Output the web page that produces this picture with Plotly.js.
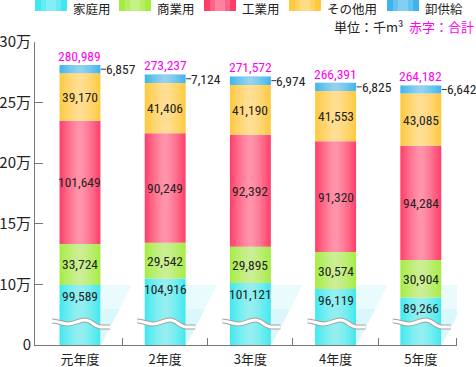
<!DOCTYPE html>
<html><head><meta charset="utf-8">
<script src="https://cdn.plot.ly/plotly-3.0.1.min.js"></script>
<style>html,body{margin:0;padding:0;background:#fff}#chart{width:476px;height:367px}
svg text{font-stretch:75%}
</style>
</head><body><div id="chart"></div>
<script>
const categories = ['元年度','2年度','3年度','4年度','5年度'];
const seriesNames = ['家庭用','商業用','工業用','その他用','卸供給'];
const household  = [99589, 104916, 101121, 96119, 89266];
const commercial = [33724, 29542, 29895, 30574, 30904];
const industrial = [101649, 90249, 92392, 91320, 94284];
const other      = [39170, 41406, 41190, 41553, 43085];
const wholesale  = [6857, 7124, 6974, 6825, 6642];
const totals     = [280989, 273237, 271572, 266391, 264182];
const yTickVals  = [50000, 100000, 150000, 200000, 250000, 300000];
const yTickText  = ['0', '10万', '15万', '20万', '25万', '30万'];
const unitText   = '単位：千m³';
const noteText   = '赤字：合計';

const colors = ['#3fe8f0', '#a4ec40', '#ff3d68', '#ffc93c', '#3cb4ee'];
const series = [household, commercial, industrial, other, wholesale];
const xs = categories.map((c, i) => i);
const numFont = 'Roboto, "Noto Sans CJK JP", sans-serif';
const jpFont = '"Noto Sans CJK JP", sans-serif';
const NUM = 13.5;
const fmt = v => v.toLocaleString('en-US');

// plot area pixel geometry
const L = 35, R = 457, T = 42, B = 345;
const px = x => (x - L) / (R - L);
const py = y => (B - y) / (B - T);

const traces = [];
const bases = series.map(() => []);
const cum = xs.map(() => 0);
series.forEach((vals, s) => {
  vals.forEach((v, i) => { bases[s][i] = cum[i]; cum[i] += v; });
  traces.push({
    type: 'bar', x: xs, y: vals, base: bases[s].slice(), width: 0.48,
    name: seriesNames[s], marker: {color: colors[s], line: {width: 0}},
    hoverinfo: 'skip', showlegend: false
  });
});
// cylinder-like highlight (lighter centre)
for (let k = 0; k < 11; k++) {
  traces.push({
    type: 'bar', x: xs, y: totals, base: xs.map(() => 0), width: 0.46 - k * 0.04,
    marker: {color: 'rgba(255,255,255,0.055)', line: {width: 0}},
    hoverinfo: 'skip', showlegend: false
  });
}

const annotations = [];
xs.forEach(i => {
  annotations.push({x: i, y: household[i], xref: 'x', yref: 'y', text: fmt(household[i]),
    showarrow: false, yanchor: 'top', yshift: -1, font: {family: numFont, size: NUM, color: '#222'}});
  [1, 2, 3].forEach(s => {
    annotations.push({x: i, y: bases[s][i] + series[s][i] / 2, xref: 'x', yref: 'y', text: fmt(series[s][i]),
      showarrow: false, yanchor: 'middle', font: {family: numFont, size: NUM, color: '#222'}});
  });
  annotations.push({x: i, y: bases[4][i] + wholesale[i] / 2, xref: 'x', yref: 'y', text: fmt(wholesale[i]),
    showarrow: false, xanchor: 'left', align: 'left', xshift: 24, yanchor: 'middle', font: {family: numFont, size: NUM, color: '#222'}});
  annotations.push({x: i, y: totals[i], xref: 'x', yref: 'y', text: fmt(totals[i]),
    showarrow: false, yanchor: 'bottom', yshift: -1, font: {family: numFont, size: NUM, color: '#ff00f0'}});
});

const shapes = [];
xs.forEach(i => {
  // floor reflection
  shapes.push({type: 'path', xref: 'x', yref: 'y', xsizemode: 'pixel', ysizemode: 'pixel',
    xanchor: i, yanchor: 50000, path: 'M21,0 L21,60 L52,60 Z', layer: 'below',
    fillcolor: 'rgba(170,240,248,0.25)', line: {width: 0}});
  shapes.push({type: 'path', xref: 'x', yref: 'y', xsizemode: 'pixel', ysizemode: 'pixel',
    xanchor: i, yanchor: 50000, path: 'M21,0 L21,36 L40,36 Z', layer: 'below',
    fillcolor: 'rgba(150,236,246,0.18)', line: {width: 0}});
  // leader line to wholesale label
  shapes.push({type: 'line', xref: 'x', yref: 'y', xsizemode: 'pixel', xanchor: i,
    x0: 21, x1: 26, y0: bases[4][i] + wholesale[i] / 2, y1: bases[4][i] + wholesale[i] / 2,
    line: {color: '#333', width: 1}});
  // axis break wave
  const wave = 'M-28,24 C-22,24 -18,21 -12,21 C-6,21 -1,25 5,25 C11,25 15,18 21,18 C25,18 28,18 30,18';
  shapes.push({type: 'path', xref: 'x', yref: 'y', xsizemode: 'pixel', ysizemode: 'pixel',
    xanchor: i, yanchor: 50000, path: wave, line: {color: '#a0a0a0', width: 5}});
  shapes.push({type: 'path', xref: 'x', yref: 'y', xsizemode: 'pixel', ysizemode: 'pixel',
    xanchor: i, yanchor: 50000, path: wave, line: {color: '#fff', width: 3}});
});

// legend (drawn)
const legX = [35, 119, 204, 289, 387];
legX.forEach((x0, s) => {
  shapes.push({type: 'rect', xref: 'paper', yref: 'paper', x0: px(x0), x1: px(x0 + 32), y0: py(11), y1: py(0),
    fillcolor: colors[s], line: {width: 0}});
  shapes.push({type: 'rect', xref: 'paper', yref: 'paper', x0: px(x0 + 6), x1: px(x0 + 26), y0: py(11), y1: py(0),
    fillcolor: 'rgba(255,255,255,0.2)', line: {width: 0}});
  shapes.push({type: 'rect', xref: 'paper', yref: 'paper', x0: px(x0 + 11), x1: px(x0 + 21), y0: py(11), y1: py(0),
    fillcolor: 'rgba(255,255,255,0.2)', line: {width: 0}});
  annotations.push({xref: 'paper', yref: 'paper', x: px(x0 + 36), y: py(9), xanchor: 'left', yanchor: 'middle',
    text: seriesNames[s], showarrow: false, font: {family: jpFont, size: 12.5, color: '#222'}});
});
annotations.push({xref: 'paper', yref: 'paper', x: px(405), y: py(27), xanchor: 'right', yanchor: 'middle',
  text: unitText, showarrow: false, font: {family: jpFont, size: 13, color: '#222'}});
annotations.push({xref: 'paper', yref: 'paper', x: px(476), y: py(27), xanchor: 'right', yanchor: 'middle',
  text: noteText, showarrow: false, font: {family: jpFont, size: 13, color: '#ff00f0'}});

const layout = {
  width: 476, height: 367,
  margin: {l: L, r: 476 - R, t: T, b: 367 - B, pad: 0},
  paper_bgcolor: '#fff', plot_bgcolor: '#fff',
  barmode: 'overlay', showlegend: false,
  xaxis: {
    range: [-0.528, 4.425], tickvals: xs, ticktext: categories, ticks: '',
    showline: true, linecolor: '#777', linewidth: 1, showgrid: false, zeroline: false,
    ticklabelstandoff: 2,
    tickfont: {family: jpFont, size: 13, color: '#222'},
    minor: {tickvals: [0.5, 1.5, 2.5, 3.5, 4.42], ticks: 'inside', ticklen: 7, tickcolor: '#777', showgrid: false}
  },
  yaxis: {
    range: [50000, 300000], tickvals: yTickVals, ticktext: yTickText,
    ticks: 'inside', ticklen: 8, tickcolor: '#777',
    showline: true, linecolor: '#777', linewidth: 1, showgrid: false, zeroline: false,
    tickfont: {family: jpFont, size: 15, color: '#222'}
  },
  annotations: annotations, shapes: shapes
};
Plotly.newPlot('chart', traces, layout, {displayModeBar: false, staticPlot: true});
</script></body></html>
